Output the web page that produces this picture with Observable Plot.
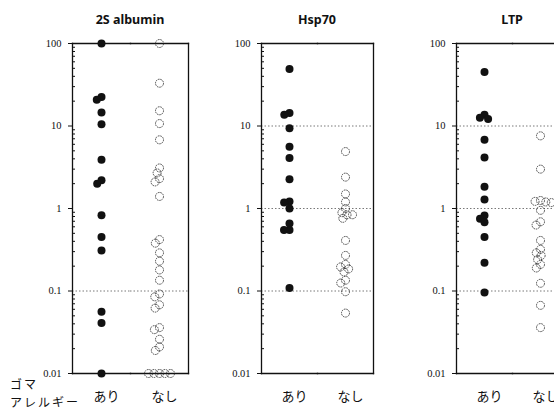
<!DOCTYPE html>
<html><head><meta charset="utf-8">
<script src="https://cdn.jsdelivr.net/npm/d3@7"></script>
<script src="https://cdn.jsdelivr.net/npm/@observablehq/plot@0.6"></script>
<style>
html,body{margin:0;padding:0;background:#fff;}
#chart{position:relative;width:554px;height:412px;overflow:hidden;background:#fff;}
.panel{position:absolute;top:0;}
.panel svg{max-width:none !important;}
.title{position:absolute;top:11px;font:bold 12.5px "Noto Sans",sans-serif;text-align:center;color:#111;white-space:nowrap;}
.rowlab{position:absolute;left:10px;font:12px "Noto Sans CJK JP",sans-serif;color:#111;line-height:14px;height:14px;white-space:nowrap;letter-spacing:2px;}
</style></head><body><div id="chart"></div>
<script>
// ---- data ----
const groups = ["あり", "なし"];
const titles = ["2S albumin", "Hsp70", "LTP"];
const rowLabel = ["ゴマ", "アレルギー"];
const yTicks = [0.01, 0.1, 1, 10, 100];
const yTickLabels = ["0.01", "0.1", "1", "10", "100"];
const minorTicks = [0.02,0.03,0.04,0.05,0.06,0.07,0.08,0.09,0.2,0.3,0.4,0.5,0.6,0.7,0.8,0.9,2,3,4,5,6,7,8,9,20,30,40,50,60,70,80,90];

const albuminYes = [100, 22.5, 20.8, 14.6, 10.5, 3.9, 2.2, 2.0, 0.83, 0.45, 0.31, 0.056, 0.041, 0.01];
const albuminNo = [100, 33, 15.3, 10.7, 6.8, 3.1, 2.7, 2.3, 2.1, 1.4, 0.42, 0.38, 0.29, 0.23, 0.18, 0.135, 0.092, 0.085, 0.068, 0.062, 0.036, 0.034, 0.026, 0.021, 0.019, 0.01, 0.01, 0.01, 0.01, 0.01];
const hspYes = [49, 14.4, 13.7, 9.4, 5.6, 4.1, 2.26, 1.22, 1.18, 1.0, 0.66, 0.55, 0.55, 0.109];
const hspNo = [4.9, 2.4, 1.5, 1.2, 1.0, 0.89, 0.84, 0.84, 0.76, 0.41, 0.27, 0.21, 0.196, 0.185, 0.17, 0.135, 0.125, 0.098, 0.054];
const ltpYes = [45, 13.7, 12.6, 12.2, 6.8, 4.15, 1.84, 1.29, 0.82, 0.75, 0.68, 0.45, 0.22, 0.096];
const ltpNo = [7.6, 3.0, 1.25, 1.22, 1.2, 1.18, 0.95, 0.69, 0.63, 0.41, 0.32, 0.29, 0.27, 0.24, 0.21, 0.19, 0.124, 0.067, 0.036];

const gridAlbumin = [100, 0.1];
const gridHsp = [10, 1, 0.1];
const gridLtp = [100, 10, 1, 0.1];

// ---- layout ----
const panels = [
  {title: titles[0], yes: albuminYes, no: albuminNo, grid: gridAlbumin, left: 0, width: 190, marginLeft: 72},
  {title: titles[1], yes: hspYes, no: hspNo, grid: gridHsp, left: 200, width: 175, marginLeft: 61},
  {title: titles[2], yes: ltpYes, no: ltpNo, grid: gridLtp, left: 390, width: 180, marginLeft: 66}
];
const chart = document.getElementById("chart");
const marginRight = 2;

for (const p of panels) {
  const yesRows = p.yes.map(v => ({g: groups[0], v}));
  const noRows = p.no.map(v => ({g: groups[1], v}));
  const frameStyle = {stroke: "#111", strokeWidth: 1.3};
  const svg = Plot.plot({
    width: p.width, height: 412,
    marginTop: 43, marginBottom: 39, marginLeft: p.marginLeft, marginRight,
    style: {fontFamily: "'Liberation Serif', serif", fontSize: "10.5px", color: "#111", background: "transparent", maxWidth: "none"},
    y: {type: "log", domain: [0.01, 100]},
    fx: {domain: groups, padding: 0, label: null},
    marks: [
      Plot.gridY(p.grid, {stroke: "#555", strokeOpacity: 1, strokeWidth: 0.8, strokeDasharray: "1.5,2"}),
      Plot.frame({anchor: "top", ...frameStyle}),
      Plot.frame({anchor: "bottom", ...frameStyle}),
      Plot.frame({anchor: "left", facetAnchor: "left", ...frameStyle}),
      Plot.frame({anchor: "right", facetAnchor: "right", ...frameStyle}),
      Plot.axisY({ticks: yTicks, tickFormat: d => yTickLabels[yTicks.indexOf(d)], tickSize: 4, tickPadding: 7, label: null}),
      Plot.axisY({ticks: minorTicks, tickFormat: () => "", tickSize: 3, dx: 3, label: null}),
      Plot.axisFx({anchor: "bottom", tickSize: 0, tickPadding: 18, fontSize: 13, fontFamily: "'Noto Sans CJK JP', sans-serif", dx: 5, label: null}),
      Plot.dot(yesRows, Plot.dodgeX({anchor: "middle", padding: -2.5}, {fx: "g", y: "v", r: 4, fill: "#111"})),
      Plot.dot(noRows, Plot.dodgeX({anchor: "middle", padding: -2.5}, {fx: "g", y: "v", r: 4, fill: "none", stroke: "#222", strokeWidth: 0.8, strokeDasharray: "1.6,0.8"}))
    ]
  });
  const wrap = document.createElement("div");
  wrap.className = "panel";
  wrap.style.left = p.left + "px";
  wrap.style.width = p.width + "px";
  wrap.appendChild(svg);
  chart.appendChild(wrap);
  const t = document.createElement("div");
  t.className = "title";
  t.style.left = (p.left + p.marginLeft) + "px";
  t.style.width = (p.width - p.marginLeft - marginRight) + "px";
  t.textContent = p.title;
  chart.appendChild(t);
}
rowLabel.forEach((txt, i) => {
  const rl = document.createElement("div");
  rl.className = "rowlab";
  rl.style.top = (377 + i * 18) + "px";
  rl.textContent = txt;
  chart.appendChild(rl);
});
</script>
</body></html>
